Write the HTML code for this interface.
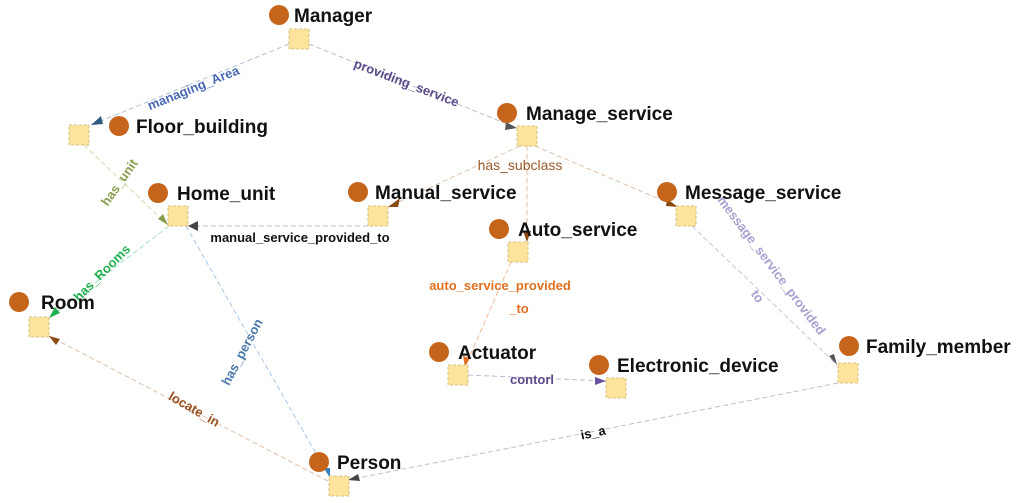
<!DOCTYPE html>
<html><head><meta charset="utf-8"><style>
body{margin:0;background:#fff;}
svg{display:block;font-family:"Liberation Sans",sans-serif;}
.n{font-weight:bold;font-size:19px;fill:#111;}
.e{font-weight:bold;font-size:13px;}
.sq{fill:#fde39c;stroke:#d8c080;stroke-width:1;stroke-dasharray:3 2;}
.c{fill:#c5651c;}
line{stroke-width:1;stroke-dasharray:5 3;fill:none;}
</style></head><body>
<svg width="1024" height="503" viewBox="0 0 1024 503">
<!-- edges -->
<line x1="289" y1="44" x2="91" y2="125" stroke="#b0c0d8"/>
<line x1="309" y1="44" x2="517" y2="128" stroke="#c0c0c8"/>
<line x1="520" y1="146" x2="388" y2="207" stroke="#e0c0a8"/>
<line x1="527" y1="146" x2="527" y2="242" stroke="#e0c0a8"/>
<line x1="535" y1="146" x2="678" y2="207" stroke="#e0c0a8"/>
<line x1="84" y1="145" x2="168" y2="225" stroke="#d0dcb0"/>
<line x1="368" y1="226" x2="188" y2="226" stroke="#c0c0c0"/>
<line x1="169" y1="226" x2="49" y2="318" stroke="#a0e0c0"/>
<line x1="186" y1="226" x2="330" y2="478" stroke="#a8c8e8"/>
<line x1="511" y1="262" x2="465" y2="367" stroke="#f0b890"/>
<line x1="692" y1="226" x2="837" y2="365" stroke="#c8c0e0"/>
<line x1="468" y1="375" x2="606" y2="381" stroke="#c0b8d8"/>
<line x1="838" y1="383" x2="348" y2="480" stroke="#c0c0c0"/>
<line x1="328" y1="481" x2="49" y2="336" stroke="#e0c0a8"/>
<!-- arrowheads -->
<polygon points="91,125 101,116 103,124" fill="#2f5a80"/>
<polygon points="517,128 506,122 505,130" fill="#555"/>
<polygon points="388,207 400,198 398,207" fill="#8a4a10"/>
<polygon points="527,242 523,231 531,231" fill="#8a4a10"/>
<polygon points="678,207 667,199 666,206" fill="#8a4a10"/>
<polygon points="168,225 158,219 163,214" fill="#8aa050"/>
<polygon points="188,226 198,221 198,231" fill="#444"/>
<polygon points="49,318 55,307 60,313" fill="#20b050"/>
<polygon points="330,478 324,468 330,468" fill="#3080c0"/>
<polygon points="465,367 463,356 470,358" fill="#e07020"/>
<polygon points="837,365 829,356 834,354" fill="#555"/>
<polygon points="606,381 595,377 595,385" fill="#6a50a0"/>
<polygon points="348,480 358,474 360,481" fill="#444"/>
<polygon points="49,336 60,339 56,345" fill="#8a4a10"/>
<!-- edge labels -->
<text class="e" fill="#4a6ab5" transform="translate(195,92) rotate(-22)" text-anchor="middle">managing_Area</text>
<text class="e" fill="#5b4a8a" transform="translate(405,87) rotate(21)" text-anchor="middle">providing_service</text>
<text class="e" fill="#9a5a2a" x="520" y="170" text-anchor="middle" style="font-weight:normal;font-size:14px">has_subclass</text>
<text class="e" fill="#8aa050" transform="translate(123,185) rotate(-55)" text-anchor="middle">has_unit</text>
<text class="e" fill="#111" x="300" y="242" text-anchor="middle">manual_service_provided_to</text>
<text class="e" fill="#20b050" transform="translate(105,276) rotate(-45)" text-anchor="middle">has_Rooms</text>
<text class="e" fill="#4a7aa8" transform="translate(246,354) rotate(-62)" text-anchor="middle">has_person</text>
<text class="e" fill="#e07020" x="500" y="290" text-anchor="middle">auto_service_provided</text>
<text class="e" fill="#e07020" x="519" y="313" text-anchor="middle">_to</text>
<text class="e" fill="#a8a0d0" transform="translate(768,268) rotate(53)" text-anchor="middle">message_service_provided</text>
<text class="e" fill="#a8a0d0" transform="translate(754,299) rotate(53)" text-anchor="middle">to</text>
<text class="e" fill="#5b4a8a" x="532" y="384" text-anchor="middle">contorl</text>
<text class="e" fill="#111" transform="translate(594,437) rotate(-12)" text-anchor="middle">is_a</text>
<text class="e" fill="#9a5020" transform="translate(192,413) rotate(30)" text-anchor="middle">locate_in</text>
<!-- nodes -->
<g>
<circle class="c" cx="279" cy="15" r="10"/><text class="n" x="294" y="22">Manager</text><rect class="sq" x="289" y="29" width="20" height="20"/>
<circle class="c" cx="119" cy="126" r="10"/><text class="n" x="136" y="133">Floor_building</text><rect class="sq" x="69" y="125" width="20" height="20"/>
<circle class="c" cx="158" cy="193" r="10"/><text class="n" x="177" y="200">Home_unit</text><rect class="sq" x="168" y="206" width="20" height="20"/>
<circle class="c" cx="358" cy="192" r="10"/><text class="n" x="375" y="199">Manual_service</text><rect class="sq" x="368" y="206" width="20" height="20"/>
<circle class="c" cx="507" cy="113" r="10"/><text class="n" x="526" y="120">Manage_service</text><rect class="sq" x="517" y="126" width="20" height="20"/>
<circle class="c" cx="667" cy="192" r="10"/><text class="n" x="685" y="199">Message_service</text><rect class="sq" x="676" y="206" width="20" height="20"/>
<circle class="c" cx="499" cy="229" r="10"/><text class="n" x="518" y="236">Auto_service</text><rect class="sq" x="508" y="242" width="20" height="20"/>
<circle class="c" cx="19" cy="302" r="10"/><text class="n" x="41" y="309">Room</text><rect class="sq" x="29" y="317" width="20" height="20"/>
<circle class="c" cx="439" cy="352" r="10"/><text class="n" x="458" y="359">Actuator</text><rect class="sq" x="448" y="365" width="20" height="20"/>
<circle class="c" cx="599" cy="365" r="10"/><text class="n" x="617" y="372">Electronic_device</text><rect class="sq" x="606" y="378" width="20" height="20"/>
<circle class="c" cx="849" cy="346" r="10"/><text class="n" x="866" y="353">Family_member</text><rect class="sq" x="838" y="363" width="20" height="20"/>
<circle class="c" cx="319" cy="462" r="10"/><text class="n" x="337" y="469">Person</text><rect class="sq" x="329" y="476" width="20" height="20"/>
</g>
</svg>
</body></html>
